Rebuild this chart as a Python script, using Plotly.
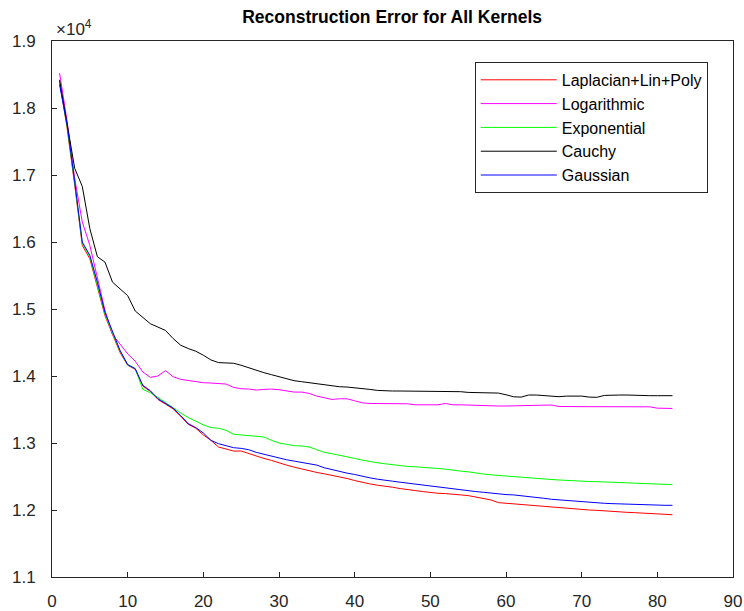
import plotly.graph_objects as go

x = list(range(1, 83))

laplacian = [18400, 17700, 16850, 15950, 15750, 15330, 14900, 14620, 14350, 14160,
             14100, 13850, 13770, 13650, 13580, 13510, 13400, 13280, 13220, 13120,
             13040, 12940, 12910, 12880, 12880, 12840, 12800, 12770, 12740, 12700,
             12670, 12640, 12610, 12590, 12560, 12540, 12520, 12500, 12470, 12440,
             12410, 12390, 12370, 12360, 12340, 12320, 12300, 12290, 12275, 12260,
             12250, 12245, 12240, 12225, 12215, 12190, 12175, 12150, 12110, 12100,
             12090, 12080, 12075, 12070, 12060, 12045, 12035, 12025, 12015, 12005,
             12000, 11995, 11985, 11975, 11970, 11965, 11960, 11955, 11950, 11945,
             11940, 11930]

logarithmic = [18520, 17800, 16950, 16300, 15950, 15450, 14980, 14620, 14480, 14330,
               14220, 14060, 13980, 14000, 14080, 13990, 13950, 13930, 13915, 13900,
               13895, 13890, 13880, 13830, 13810, 13805, 13790, 13800, 13805, 13795,
               13780, 13760, 13760, 13740, 13700, 13680, 13650, 13660, 13660, 13630,
               13600, 13590, 13590, 13590, 13590, 13590, 13585, 13570, 13570, 13570,
               13570, 13590, 13570, 13570, 13565, 13560, 13552, 13552, 13552, 13552,
               13555, 13560, 13560, 13560, 13562, 13567, 13545, 13542, 13542, 13542,
               13542, 13542, 13542, 13542, 13542, 13542, 13542, 13542, 13540, 13520,
               13518, 13515]

exponential = [18380, 17720, 16880, 15980, 15780, 15360, 14920, 14640, 14370, 14170,
               14110, 13800, 13750, 13680, 13600, 13530, 13450, 13380, 13320, 13270,
               13230, 13220, 13190, 13130, 13120, 13110, 13100, 13090, 13040, 13000,
               12980, 12960, 12955, 12940, 12900, 12860, 12840, 12820, 12800, 12770,
               12745, 12720, 12705, 12690, 12675, 12660, 12650, 12645, 12640, 12635,
               12620, 12610, 12590, 12580, 12570, 12550, 12537, 12525, 12515, 12505,
               12497, 12490, 12480, 12470, 12460, 12455, 12448, 12440, 12435, 12430,
               12425, 12423, 12418, 12410, 12405, 12398, 12395, 12392, 12388, 12385,
               12383, 12380]

cauchy = [18420, 17750, 17100, 16830, 16200, 15780, 15700, 15400, 15300, 15200,
          14970, 14880, 14780, 14730, 14680, 14560, 14460, 14410, 14370, 14310,
          14240, 14200, 14200, 14190, 14160, 14120, 14090, 14050, 14020, 13990,
          13960, 13930, 13915, 13900, 13880, 13860, 13850, 13840, 13835, 13826,
          13820, 13800, 13785, 13776, 13776, 13776, 13776, 13770, 13770, 13770,
          13770, 13770, 13775, 13766, 13755, 13751, 13751, 13751, 13745, 13720,
          13690, 13685, 13716, 13716, 13705, 13691, 13691, 13700, 13700, 13700,
          13685, 13682, 13710, 13716, 13716, 13716, 13710, 13706, 13706, 13706,
          13706, 13706]

gaussian = [18350, 17750, 16900, 16000, 15800, 15400, 14950, 14650, 14380, 14170,
            14110, 13860, 13780, 13660, 13590, 13520, 13410, 13290, 13230, 13150,
            13040, 12990, 12960, 12930, 12920, 12900, 12860, 12830, 12800, 12770,
            12750, 12730, 12710, 12690, 12670, 12630, 12600, 12580, 12550, 12530,
            12500, 12480, 12460, 12440, 12430, 12415, 12400, 12385, 12370, 12360,
            12340, 12330, 12320, 12300, 12290, 12275, 12265, 12250, 12240, 12230,
            12225, 12215, 12200, 12190, 12175, 12160, 12150, 12140, 12130, 12120,
            12110, 12105, 12100, 12095, 12090, 12085, 12080, 12075, 12075, 12070,
            12070, 12070]

series = [
    ("Laplacian+Lin+Poly", laplacian, "#ff0000"),
    ("Logarithmic", logarithmic, "#ff00ff"),
    ("Exponential", exponential, "#00ff00"),
    ("Cauchy", cauchy, "#000000"),
    ("Gaussian", gaussian, "#0000ff"),
]

y_tickvals = [11000, 12000, 13000, 14000, 15000, 16000, 17000, 18000, 19000]
y_ticktext = ["1.1", "1.2", "1.3", "1.4", "1.5", "1.6", "1.7", "1.8", "1.9"]
x_tickvals = [0, 10, 20, 30, 40, 50, 60, 70, 80, 90]

FONT = "Liberation Sans, Arial, Helvetica, sans-serif"
AX = "#262626"

fig = go.Figure()
for name, vals, col in series:
    fig.add_trace(go.Scatter(x=x, y=vals, mode="lines", name=name,
                             line=dict(color=col, width=1)))

axis_common = dict(showline=True, linecolor=AX, linewidth=1, mirror=True,
                   ticks="inside", ticklen=5, tickcolor=AX, showgrid=False,
                   zeroline=False, automargin=False,
                   tickfont=dict(family=FONT, size=17, color=AX))

fig.update_layout(
    width=744, height=611,
    margin=dict(l=52, r=11, t=41, b=34, autoexpand=False),
    paper_bgcolor="white", plot_bgcolor="white",
    title=dict(text="<b>Reconstruction Error for All Kernels</b>",
               x=0.527, xanchor="center", y=0.972, yanchor="middle",
               font=dict(family=FONT, size=17.5, color="black")),
    xaxis=dict(range=[0, 90], tickvals=x_tickvals, ticklabelstandoff=9,
               **axis_common),
    yaxis=dict(range=[11000, 19000], tickvals=y_tickvals, ticktext=y_ticktext,
               ticklabelstandoff=12, **axis_common),
    legend=dict(x=0.963, y=0.961, xanchor="right", yanchor="top",
                bordercolor=AX, borderwidth=1, bgcolor="white",
                font=dict(family=FONT, size=16, color="black"),
                itemwidth=76, tracegroupgap=0),
    showlegend=True,
)

fig.add_annotation(text="\u00d710<sup>4</sup>", xref="paper", yref="paper",
                   x=0, y=1, xanchor="left", yanchor="bottom", showarrow=False,
                   xshift=2, yshift=0,
                   font=dict(family=FONT, size=17, color=AX))

fig.write_html("out.html")
